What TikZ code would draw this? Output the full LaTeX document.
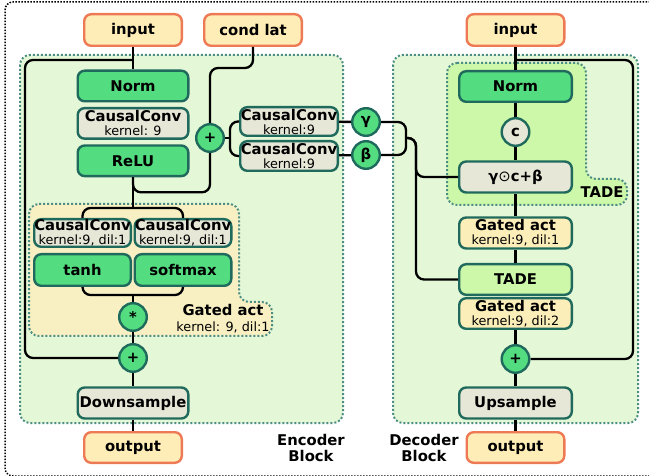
\documentclass[tikz,border=0pt]{standalone}
\usepackage{fontspec}
\setmainfont{DejaVu Sans}
\usetikzlibrary{positioning}
\definecolor{ioFill}{HTML}{FFEDB7}
\definecolor{ioLine}{HTML}{EE7A55}
\definecolor{actFill}{HTML}{54DC80}
\definecolor{boxLine}{HTML}{1F6A5C}
\definecolor{convFill}{HTML}{E6E7D7}
\definecolor{blockFill}{HTML}{E4F7D6}
\definecolor{blockLine}{HTML}{4D8E84}
\definecolor{tadeFill}{HTML}{CDF8A9}
\definecolor{gateFill}{HTML}{F8F0C3}
\definecolor{gateBox}{HTML}{FCEEB9}
\newcommand{\subtxt}[1]{{\fontsize{12.8}{14}\selectfont\mdseries #1}}
\tikzset{basic/.style={draw=boxLine,line width=2.4pt,rounded corners=7pt,inner sep=0pt,align=center,font=\bfseries\fontsize{14.8}{14}\selectfont}}
\tikzset{io/.style={basic,draw=ioLine,fill=ioFill,minimum width=97.6pt,minimum height=31.6pt}}
\tikzset{act/.style={basic,fill=actFill,minimum width=110.6pt,minimum height=30.6pt}}
\tikzset{conv/.style={basic,fill=convFill,minimum width=110.6pt,minimum height=31pt}}
\tikzset{op/.style={basic,circle,fill=actFill,minimum size=27.6pt}}
\tikzset{blockbg/.style={fill=blockFill,draw=blockLine,line width=2pt,dotted,rounded corners=10pt}}

\begin{document}
\begin{tikzpicture}[%
		x = 1pt, y = -1pt, % pixel grid, y going down
		line width = 2.3pt, % connector style
		rounded corners = 8pt,
		label/.style = {align=center,inner sep=0pt,font=\bfseries\fontsize{14.8}{16}\selectfont}
		]
		\useasboundingbox (0,0) rectangle (649,476);
		
		% Frame and blocks
		\draw[line width=1.5pt,dash pattern=on 1.5pt off 1.5pt] (665,2) -- (5,2) -- (5,476) -- (665,476);
		\path[blockbg] (20,55) rectangle (343,423);
		\path[blockbg] (393,55) rectangle (638,423);
		\path[blockbg,fill=gateFill] (29,204) -- (239,204) -- (239,302) -- (272,302) -- (272,336) -- (29,336) -- cycle;
		\path[blockbg,fill=tadeFill] (447,63) -- (586,63) -- (586,179) -- (627,179) -- (627,205) -- (447,205) -- cycle;
		
		% Encoder
		\node[io] (ein) at (133,30) {input};
		\node[io] (econd) at (253,30) {cond lat};
		\node[act] (enorm) at (133,86) {Norm};
		\node[conv,minimum height=30.6pt] (econv) [below=4.4pt of enorm] {CausalConv\\\subtxt{kernel: 9}};
		\node[act] (erelu) [below=4.4pt of econv] {ReLU};
		\node[op] (eplus) at (210,138) {+};
		\node[conv,minimum width=97.6pt,minimum height=28.6pt] (ccg) at (289,121.5) {CausalConv\\\subtxt{kernel:9}};
		\node[conv,minimum width=97.6pt,minimum height=29.6pt] (ccb) at (289,156) {CausalConv\\\subtxt{kernel:9}};
		\node[op] (gam) at (366,122) {γ};
		\node[op] (bet) at (366,155) {β};
		\node[conv,minimum width=96.6pt,minimum height=27.6pt] (gconvl) at (82.5,233) {CausalConv\\\subtxt{kernel:9, dil:1}};
		\node[conv,minimum width=96.6pt,minimum height=27.6pt] (gconvr) at (183,233) {CausalConv\\\subtxt{kernel:9, dil:1}};
		\node[act,minimum width=96.6pt,minimum height=31.6pt] (etanh) at (82.5,270) {tanh};
		\node[act,minimum width=96.6pt,minimum height=31.6pt] (esoft) at (183,270) {softmax};
		\node[op] (emul) at (133,317) {*};
		\node[op] (eadd) at (133,358) {+};
		\node[conv] (edown) at (133,403) {Downsample};
		\node[io,minimum height=30.6pt] (eout) at (133,447.5) {output};
		\node[label] (egate) at (223,319) {Gated act\\\subtxt{kernel: 9, dil:1}};
		\node[label] (elabel) at (311,448) {Encoder\\Block};
		
		% Decoder
		\node[io] (din) at (515.5,30) {input};
		\node[act,minimum width=112.6pt] (dnorm) at (515.5,86.5) {Norm};
		\node[op,fill=convFill] (dc) at (515.5,132) {c};
		\node[conv,minimum width=112.6pt] (dmod) at (515.5,177) {γ{\mdseries ⊙}c+β};
		\node[label] (dtadelabel) at (602,192) {TADE};
		\node[conv,fill=gateBox,minimum width=112.6pt] (dgate1) at (515.5,233) {Gated act\\\subtxt{kernel:9, dil:1}};
		\node[act,fill=tadeFill,minimum width=112.6pt] (dtade) at (515.5,279.5) {TADE};
		\node[conv,fill=gateBox,minimum width=112.6pt,minimum height=30.6pt] (dgate2) at (515.5,313.5) {Gated act\\\subtxt{kernel:9, dil:2}};
		\node[op] (dadd) at (515.5,359) {+};
		\node[conv,minimum width=112.6pt] (dup) at (515.5,403) {Upsample};
		\node[io,minimum height=30.6pt] (dout) at (515.5,447.5) {output};
		\node[label] (dlabel) at (424,448) {Decoder\\Block};
		
		% Taps and joints
		\coordinate (etap) at (133,60);
		\coordinate (eleft) at (25,358);
		\coordinate (efork) at (133,208);
		\coordinate (ejoin) at (133,295);
		\coordinate (ebr) at (230,138);
		\coordinate (dbr) at (406,138);
		\coordinate (dbus) at (416,177);
		\coordinate (dtap) at (515.5,60);
		\coordinate (dright) at (633,359);
		
		% Linear
		\draw (ein) -- (enorm);
		\draw (erelu) -- (efork);
		\draw (ejoin) -- (emul);
		\draw (emul) -- (eadd);
		\draw (eadd) -- (edown);
		\draw (edown) -- (eout);
		\draw (din) -- (dnorm);
		\draw (dnorm) -- (dc);
		\draw (dc) -- (dmod);
		\draw (dmod) -- (dgate1);
		\draw (dgate1) -- (dtade);
		\draw (dgate2) -- (dadd);
		\draw (dadd) -- (dup);
		\draw (dup) -- (dout);
		
		% Gates
		\draw (gconvl.north) |- (efork) -| (gconvr.north);
		\draw (etanh.south) |- (ejoin) -| (esoft.south);
		
		% Conditioning
		\draw (econd.south) -- ++(0,21) -| (eplus.north);
		\draw (erelu.south) -- ++(0,15) -| (eplus.south);
		\draw (eplus) -- (ebr);
		\draw (ccg.west) -| (ebr) |- (ccb.west);
		\draw (ccg) -- (gam);
		\draw (ccb) -- (bet);
		\draw (gam.east) -| (dbr) |- (bet.east);
		\draw (dbr) -| (dbus) -- (dmod.west);
		\draw (dbr) -| (dbus) |- (dtade.west);
		
		% Residual
		\draw (etap) -| (eleft) -- (eadd);
		\draw (dtap) -| (dright) -- (dadd);
\end{tikzpicture}
\end{document}
